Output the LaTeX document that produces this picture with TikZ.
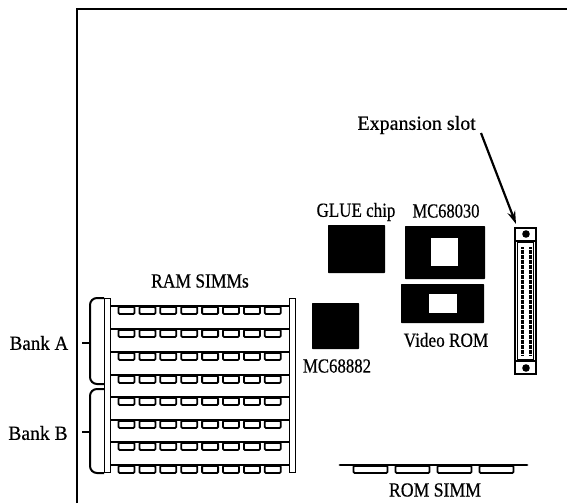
\documentclass[tikz,border=0pt]{standalone}
\usepackage{fontspec}
\setmainfont[RawFeature={embolden=0.5}]{Liberation Serif}
\usepackage{tikz}
\usetikzlibrary{positioning,arrows.meta,calc}
\tikzset{
  partlabel/.style={font=\fontsize{20}{22}\selectfont,inner sep=0pt,transform shape,xscale=#1},
  partlabel/.default=1,
  chipblock/.style={draw=none,fill=black,inner sep=0pt,rounded corners=0.6pt},
  chipwindow/.style={draw=none,fill=white,inner sep=0pt},
  simmrail/.style={line width=2.8pt},
  simmchip/.style={draw,line width=1.8pt,fill=white,rounded corners=1pt,inner sep=0pt,minimum height=7pt},
  endbar/.style={draw,line width=1.9pt,fill=white,inner sep=0pt},
  bankbrace/.style={line width=2pt,rounded corners=7pt},
}
\begin{document}
\begin{tikzpicture}[x=1pt,y=-1pt]
\useasboundingbox (0,0) rectangle (567,503);
% board outline
\coordinate (boardbl) at (77,503);
\coordinate (boardtl) at (77,9);
\coordinate (boardtr) at (567,9);
\draw[line width=2.4pt] (boardbl) -- (boardtl) -- (boardtr);
% RAM SIMMs
\foreach \y [count=\r] in {306,329,352,375,397,420,442,465} {
  \coordinate (rl\r) at (108,\y);
  \coordinate (rr\r) at (292,\y);
  \draw[simmrail] (rl\r) -- (rr\r);
  \foreach \x in {0,...,7}
    \node[simmchip,minimum width=16pt,anchor=north] at (126.5+\x*20.9,\y) {};
}
\node[endbar,minimum width=6pt,minimum height=174pt] (barl) at (107.5,385.5) {};
\node[endbar,minimum width=6pt,minimum height=174pt] (barr) at (292.5,385.5) {};
\node[partlabel=.875] (ram) at (200,281) {RAM SIMMs};
% banks
\coordinate (atop) at (104,298);
\coordinate (abot) at (104,384);
\coordinate (btop) at (104,389);
\coordinate (bbot) at (104,473);
\draw[bankbrace] (atop) -- (90,298) -- (90,384) -- (abot);
\draw[bankbrace] (btop) -- (90,389) -- (90,473) -- (bbot);
\node[partlabel=.95] (banka) at (39,343) {Bank A};
\node[partlabel=.98] (bankb) at (38,433) {Bank B};
\coordinate (ticka) at (90,343);
\coordinate (tickb) at (90,432);
\draw[line width=1.7pt] (ticka) -- (82,343);
\draw[line width=1.7pt] (tickb) -- (82,432);
% chips
\node[chipblock,minimum width=57pt,minimum height=48pt] (glue) at (356.5,249) {};
\node[partlabel=.85] at (356,212) {GLUE chip};
\node[chipblock,minimum width=80pt,minimum height=53pt] (cpu) at (445,252.5) {};
\node[chipwindow,minimum width=27pt,minimum height=28pt] at (444.5,252) {};
\node[partlabel=.825] at (446,211) {MC68030};
\node[chipblock,minimum width=83pt,minimum height=39pt] (vrom) at (442.5,303.5) {};
\node[chipwindow,minimum width=28pt,minimum height=19pt] at (443,303.5) {};
\node[partlabel=.86] at (446,340) {Video ROM};
\node[chipblock,minimum width=47pt,minimum height=46pt] (fpu) at (335.5,326) {};
\node[partlabel=.84] at (337,366) {MC68882};
% expansion slot
\node[draw,line width=2pt,minimum width=21pt,minimum height=146pt,inner sep=0pt] (slot) at (525.5,301) {};
\draw[line width=2pt] (514.5,240.5) -- (536.5,240.5);
\draw[line width=2pt] (514.5,361) -- (536.5,361);
\draw[line width=1.4pt] (517.5,242) rectangle (533.5,360);
\fill (526,234) circle (3.8pt);
\fill (526,368) circle (3.8pt);
\foreach \x in {522,530}
  \draw[line width=3pt,dash pattern=on 2pt off 0.5pt] (\x,247) -- (\x,355);
\node[partlabel,anchor=east] (expl) at (476,125) {Expansion slot};
\coordinate (argo) at (481,133);
\coordinate (arto) at (516,224);
\draw[-{Stealth[length=13pt,width=8pt]},line width=2.2pt] (argo) -- (arto);
% ROM SIMM
\coordinate (roml) at (340,465);
\coordinate (romr) at (527,465);
\draw[simmrail,line cap=round] (roml) -- (romr);
\foreach \x in {370.5,412.5,454.5,496.5}
  \node[simmchip,minimum width=34pt,anchor=north] at (\x,465) {};
\node[partlabel=.885] (rom) at (435,490) {ROM SIMM};
\end{tikzpicture}
\end{document}
